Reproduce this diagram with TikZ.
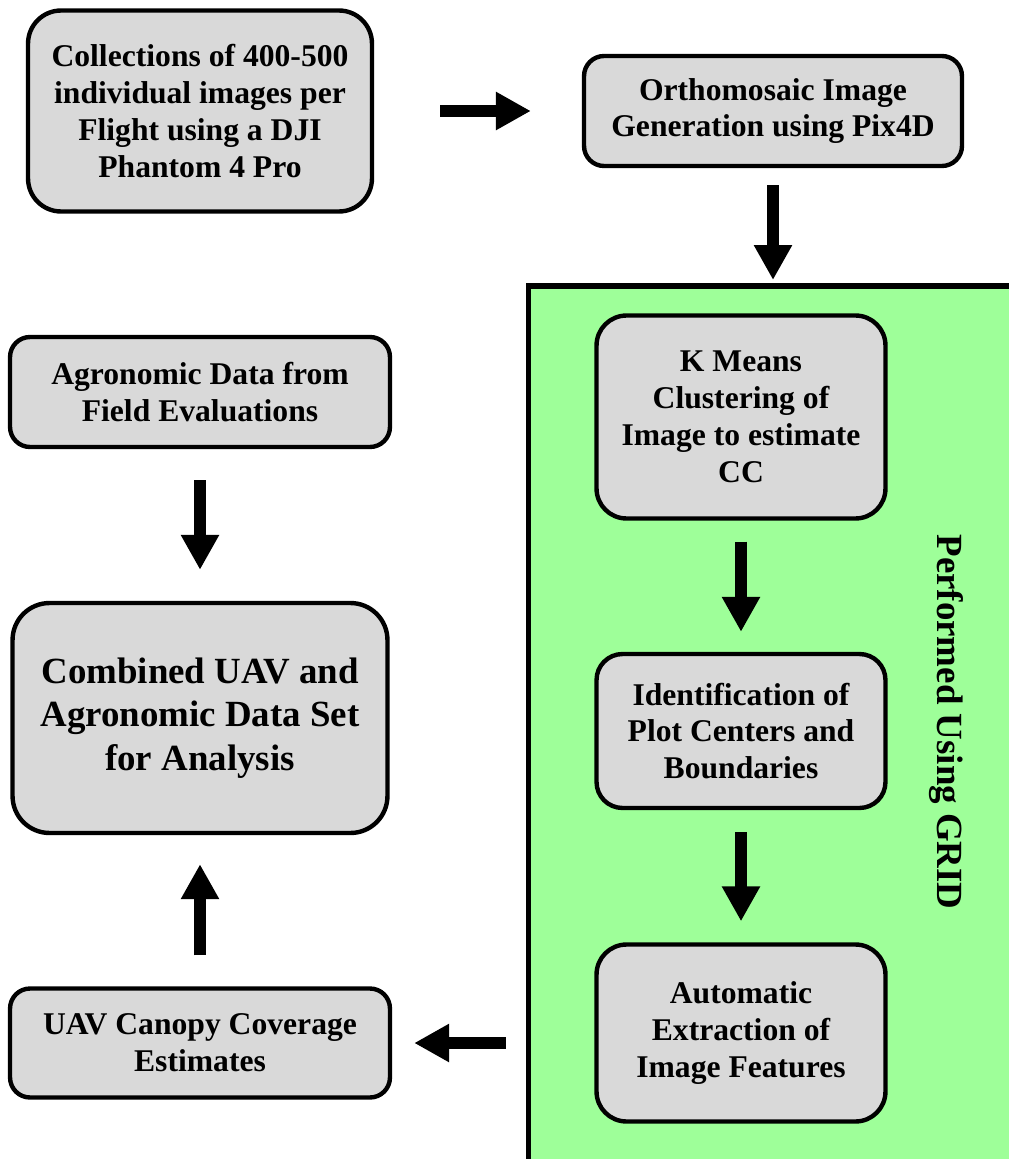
\documentclass[tikz,border=0pt]{standalone}
\usepackage{fontspec}
\setmainfont{Liberation Serif}
\usetikzlibrary{arrows.meta}
\definecolor{boxgray}{RGB}{217,217,217}
\definecolor{gridgreen}{RGB}{158,255,153}

\begin{document}
\begin{tikzpicture}[x=0.02cm, y=-0.02cm,
    procbox/.style={draw, line width=2.5pt, fill=boxgray, align=center, inner sep=0pt,
      font=\bfseries\fontsize{18}{21}\selectfont},
    bigbox/.style={procbox, font=\bfseries\fontsize{21}{24.6}\selectfont},
    blockarrow/.style={line width=0.24cm, -{Triangle[length=0.7cm, width=0.72cm]}}]
  \useasboundingbox (0,0) rectangle (1008,1159);
  \fill[gridgreen] (528.5,286) rectangle (1015,1165);
  \draw[line width=3.2pt] (528.5,1165) -- (528.5,286) -- (1015,286);
  \coordinate (gridtop) at (773,286);
  \coordinate (gridleft) at (528.5,1043);
  \node[rotate=-90, font=\bfseries\fontsize{21}{24.6}\selectfont] (gridlabel) at (946,722) {Performed Using GRID};
  \node[procbox, rounded corners=0.66cm, minimum width=6.88cm, minimum height=4.02cm] (collect) at (200,111)
    {Collections of 400-500\\individual images per\\Flight using a DJI\\Phantom 4 Pro};
  \node[procbox, rounded corners=0.4cm, minimum width=7.56cm, minimum height=2.2cm] (ortho) at (773,111)
    {Orthomosaic Image\\Generation using Pix4D};
  \node[procbox, rounded corners=0.6cm, minimum width=5.78cm, minimum height=4.06cm] (kmeans) at (741,417)
    {K Means\\Clustering of\\Image to estimate\\CC};
  \node[procbox, rounded corners=0.52cm, minimum width=5.78cm, minimum height=3.08cm] (plotid) at (741,731)
    {Identification of\\Plot Centers and\\Boundaries};
  \node[procbox, rounded corners=0.6cm, minimum width=5.78cm, minimum height=3.54cm] (extract) at (741,1033)
    {Automatic\\Extraction of\\Image Features};
  \node[procbox, rounded corners=0.4cm, minimum width=7.6cm, minimum height=2.2cm] (agro) at (200,392)
    {Agronomic Data from\\Field Evaluations};
  \node[bigbox, rounded corners=0.74cm, minimum width=7.5cm, minimum height=4.6cm] (combined) at (200,718)
    {Combined UAV and\\Agronomic Data Set\\for Analysis};
  \node[procbox, rounded corners=0.4cm, minimum width=7.6cm, minimum height=2.18cm] (canopy) at (200,1043)
    {UAV Canopy Coverage\\Estimates};
  \draw[blockarrow, shorten <=1.32cm, shorten >=1.02cm] (collect.east) -- (ortho.west);
  \draw[blockarrow, shorten <=0.34cm, shorten >=0.12cm] (ortho) -- (gridtop);
  \draw[blockarrow, shorten <=0.42cm, shorten >=0.4cm] (kmeans) -- (plotid);
  \draw[blockarrow, shorten <=0.44cm, shorten >=0.42cm] (plotid) -- (extract);
  \draw[blockarrow, shorten <=0.62cm, shorten >=0.62cm] (agro) -- (combined);
  \draw[blockarrow, shorten <=0.62cm, shorten >=0.58cm] (canopy) -- (combined);
  \draw[blockarrow, shorten <=0.46cm, shorten >=0.44cm] (gridleft) -- (canopy.east);
\end{tikzpicture}
\end{document}
